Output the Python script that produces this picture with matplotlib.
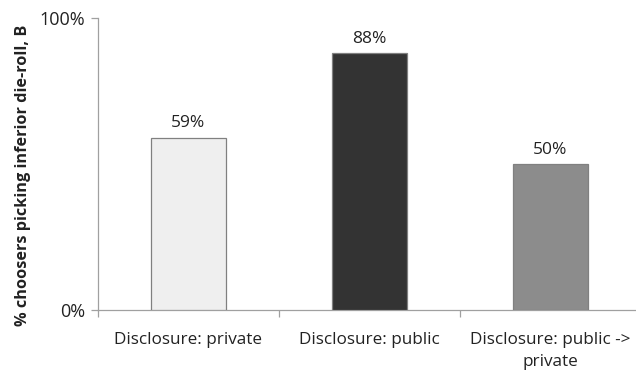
import matplotlib
matplotlib.use("Agg")
import matplotlib.pyplot as plt
from matplotlib.ticker import FixedLocator

categories = ["Disclosure: private", "Disclosure: public", "Disclosure: public ->\nprivate"]
values = [59, 88, 50]
value_labels = ["59%", "88%", "50%"]
colors = ["#efefef", "#333333", "#8c8c8c"]
ytick_vals = [0, 100]
ytick_labels = ["0%", "100%"]

plt.rcParams['font.family'] = ['Open Sans', 'DejaVu Sans']

W, H = 636, 372
fig = plt.figure(figsize=(W/100, H/100), dpi=100)
x0, x1 = 98, 641
y0, y1 = 310, 18
ax = fig.add_axes([x0/W, 1 - y0/H, (x1-x0)/W, (y0-y1)/H])

xs = list(range(len(categories)))
bars = ax.bar(xs, values, width=0.41, color=colors, edgecolor="#808080", linewidth=0.9, zorder=3)
for x, v, lab in zip(xs, values, value_labels):
    ax.text(x, v + 2.2, lab, ha="center", va="bottom", fontsize=12.5, color="#222222")

ax.set_xlim(-0.5, 2.5)
ax.set_ylim(0, 100)
ax.set_yticks(ytick_vals)
ax.set_yticklabels(ytick_labels, fontsize=13, color="#222222")
ax.set_xticks(xs)
ax.set_xticklabels(categories, fontsize=12.3, color="#222222", linespacing=1.45)
ax.tick_params(axis="x", length=0, pad=16)
ax.xaxis.set_minor_locator(FixedLocator([-0.5, 0.5, 1.5, 2.5]))
ax.tick_params(axis="x", which="minor", length=5, color="#a0a0a0", width=0.9)
ax.tick_params(axis="y", length=5, color="#a0a0a0", width=0.9, pad=4)

for s in ["top", "right"]:
    ax.spines[s].set_visible(False)
for s in ["left", "bottom"]:
    ax.spines[s].set_color("#a0a0a0")
    ax.spines[s].set_linewidth(0.9)

ax.set_ylabel("% choosers picking inferior die-roll, B", fontsize=11.7, fontweight="bold", color="#222222")
ax.yaxis.set_label_coords(-(98-31)/(x1-x0), 0.46)

fig.savefig("out.png", dpi=100)
